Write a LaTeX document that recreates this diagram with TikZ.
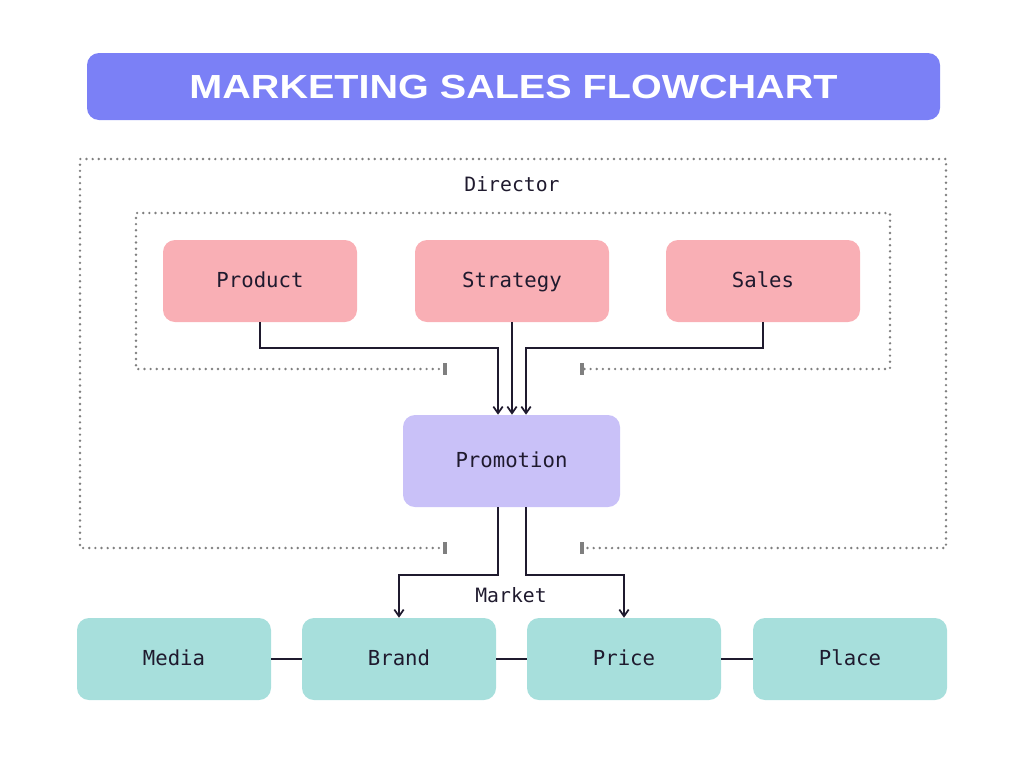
\documentclass[tikz,border=0pt]{standalone}
\usepackage{fontspec}
\setmainfont{Liberation Sans}
\newfontfamily\monofont{DejaVu Sans Mono}
\usetikzlibrary{arrows.meta}
\definecolor{titlebg}{HTML}{7B80F6}
\definecolor{pinkbg}{HTML}{F9AFB5}
\definecolor{purplebg}{HTML}{C9C1F8}
\definecolor{tealbg}{HTML}{A7DFDC}
\definecolor{ink}{HTML}{1F1A2E}
\definecolor{dotgray}{HTML}{7F7F7F}
\tikzset{
  box/.style={rounded corners=9pt, minimum width=145.5pt, minimum height=61.5pt,
    inner sep=0pt, text=ink, font=\monofont\fontsize{15.5}{18}\selectfont,
    text height=13pt, text depth=4pt},
  topbox/.style={box, fill=pinkbg},
  botbox/.style={box, fill=tealbg},
  promobox/.style={box, fill=purplebg, minimum width=162.75pt, minimum height=69pt},
  lbl/.style={text=ink, font=\monofont\fontsize{14.8}{18}\selectfont, inner sep=0pt,
    text height=12.5pt, text depth=4pt},
  arr/.style={draw=ink, line width=1.5pt, -{Straight Barb[length=5pt,width=7pt,line width=1.3pt]}},
  link/.style={draw=ink, line width=1.5pt},
  dots/.style={draw=dotgray, line width=2pt, line cap=round, dash pattern=on 0pt off 4.6pt},
  bar/.style={draw=dotgray, line width=2.4pt}
}
\begin{document}
\begin{tikzpicture}[x=0.75pt,y=-0.75pt]
\useasboundingbox (0,0) rectangle (1024,768);
% title
\node[fill=titlebg, rounded corners=9pt, minimum width=639.75pt, minimum height=50.25pt, inner sep=0pt, text=white]
  (title) at (513.5,86.5) {\resizebox{486pt}{17.5pt}{\bfseries MARKETING SALES FLOWCHART}};
% dotted containers
\draw[dots] (445,548) -- (80,548) -- (80,159) -- (946,159) -- (946,548) -- (582,548);
\draw[bar] (445,542) -- (445,554);
\draw[bar] (582,542) -- (582,554);
\draw[dots] (445,369) -- (136,369) -- (136,213) -- (890,213) -- (890,369) -- (582,369);
\draw[bar] (445,363) -- (445,375);
\draw[bar] (582,363) -- (582,375);
\node[lbl] (director) at (512,186) {Director};
\node[lbl] (market) at (511,597) {Market};
% nodes
\node[topbox] (prod) at (260,281) {Product};
\node[topbox] (strat) at (512,281) {Strategy};
\node[topbox] (sales) at (763,281) {Sales};
\node[promobox] (promo) at (511.5,461) {Promotion};
\node[botbox] (media) at (174,659) {Media};
\node[botbox] (brand) at (399,659) {Brand};
\node[botbox] (price) at (624,659) {Price};
\node[botbox] (place) at (850,659) {Place};
% connectors
\draw[arr] (prod.south) -- ++(0,26) -| ([xshift=-10.1pt]promo.north);
\draw[arr] (strat.south) -- (strat.south |- promo.north);
\draw[arr] (sales.south) -- ++(0,26) -| ([xshift=10.9pt]promo.north);
\draw[arr] ([xshift=-10.1pt]promo.south) -- ++(0,68) -| (brand.north);
\draw[arr] ([xshift=10.9pt]promo.south) -- ++(0,68) -| (price.north);
\draw[link] (media.east) -- (brand.west);
\draw[link] (brand.east) -- (price.west);
\draw[link] (price.east) -- (place.west);
\end{tikzpicture}
\end{document}
